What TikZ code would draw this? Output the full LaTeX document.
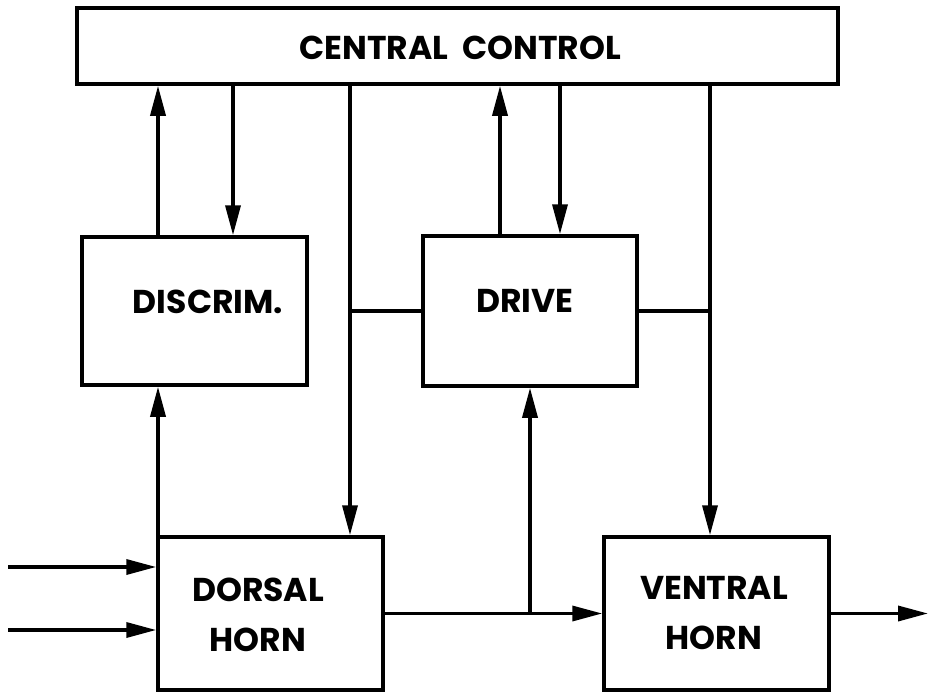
\documentclass[tikz,border=0pt]{standalone}
\usepackage{fontspec}
\setmainfont{Poppins}
\usetikzlibrary{arrows.meta}
\begin{document}
\begin{tikzpicture}[x=1pt,y=-1pt,
  box/.style={draw,line width=3.5pt,inner sep=0pt},
  lbl/.style={font=\fontsize{33}{50}\selectfont\bfseries,align=center,inner sep=0pt},
  conn/.style={line width=3.5pt},
  arr/.style={line width=3.5pt,-{Triangle[length=30pt,width=15pt]}}]
\useasboundingbox (0,0) rectangle (932,693);
% boxes
\node[box,minimum width=761pt,minimum height=76pt] (central) at (457.5,46) {};
\node[lbl] (centraltxt) at (460,48) {CENTRAL\ \ CONTROL};
\node[box,minimum width=225pt,minimum height=148pt] (discrim) at (194.5,311) {};
\node[lbl] (discrimtxt) at (208,302) {DISCRIM.};
\node[box,minimum width=214pt,minimum height=150pt] (drive) at (530,311) {};
\node[lbl] (drivetxt) at (525,301) {DRIVE};
\node[box,minimum width=225pt,minimum height=153pt] (dorsal) at (270.5,613.5) {};
\node[lbl] (dorsaltxt) at (258,615) {DORSAL\\HORN};
\node[box,minimum width=225pt,minimum height=153pt] (ventral) at (716.5,613.5) {};
\node[lbl] (ventraltxt) at (714,613) {VENTRAL\\HORN};
% x positions
\coordinate (xa) at (158,0);
\coordinate (xb) at (233,0);
\coordinate (xc) at (350,0);
\coordinate (xd) at (500,0);
\coordinate (xe) at (560,0);
\coordinate (xf) at (710,0);
\coordinate (xg) at (530,0);
\coordinate (in1) at (8,567);
\coordinate (in2) at (8,630);
\coordinate (out) at (928,613.5);
% connectors
\draw[arr] (xa |- dorsal.north) -- (xa |- discrim.south);
\draw[arr] (xa |- discrim.north) -- (xa |- central.south);
\draw[arr] (xb |- central.south) -- (xb |- discrim.north);
\draw[arr] (xc |- central.south) -- (xc |- dorsal.north);
\draw[conn] (xc |- drive.west) -- (drive.west);
\draw[arr] (xd |- drive.north) -- (xd |- central.south);
\draw[arr] (xe |- central.south) -- (xe |- drive.north);
\draw[arr] (xf |- central.south) -- (xf |- ventral.north);
\draw[conn] (drive.east) -- (xf |- drive.east);
\draw[arr] (dorsal.east) -- (ventral.west);
\draw[arr] (xg |- dorsal.east) -- (xg |- drive.south);
\draw[arr] (ventral.east) -- (out);
\draw[arr] (in1) -- (in1 -| dorsal.west);
\draw[arr] (in2) -- (in2 -| dorsal.west);
\end{tikzpicture}
\end{document}
